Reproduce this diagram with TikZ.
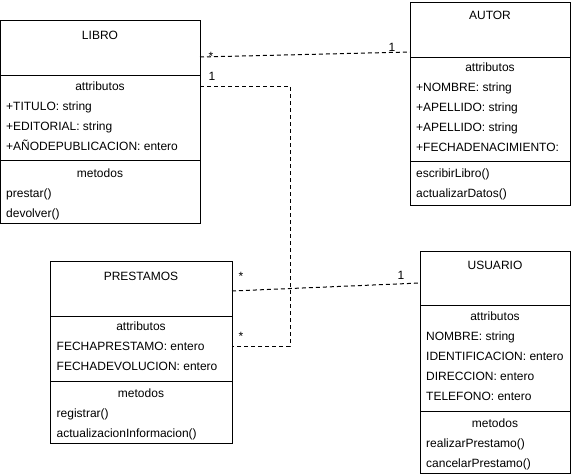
\documentclass[tikz,border=0pt]{standalone}
\usepackage{fontspec}
\setmainfont{Liberation Sans}

\begin{document}
\begin{tikzpicture}[x=1pt,y=-1pt,
    every node/.style={font=\fontsize{12}{14}\selectfont, inner sep=0pt},
    part/.style={draw, line width=1pt, outer sep=0pt, anchor=north west},
    titulo/.style={anchor=base},
    campo/.style={anchor=base west},
    mult/.style={anchor=base},
    assoc/.style={line width=1pt, dash pattern=on 4pt off 3pt}]
    \useasboundingbox (0,0) rectangle (571,474);
    % LIBRO
    \node[part, minimum width=199.5, minimum height=55.5] (libroH) at (0.5,20) {};
    \node[part, minimum width=199.5, minimum height=85] (libroA) at (libroH.south west) {};
    \node[part, minimum width=199.5, minimum height=62.5] (libroM) at (libroA.south west) {};
    \node[titulo] (libroT) at (100,39.5) {LIBRO};
    \node[titulo] (libroA0) at (100,90.5) {attributos};
    \node[campo] (libroA1) at (6,110.5) {+TITULO: string};
    \node[campo] (libroA2) at (6,130.5) {+EDITORIAL: string};
    \node[campo] (libroA3) at (6,150.5) {+AÑODEPUBLICACION: entero};
    \node[titulo] (libroM0) at (100,177.5) {metodos};
    \node[campo] (libroM1) at (6,197.5) {prestar()};
    \node[campo] (libroM2) at (6,217.5) {devolver()};
    % AUTOR
    \node[part, minimum width=160, minimum height=55] (autorH) at (410,2) {};
    \node[part, minimum width=160, minimum height=104] (autorA) at (autorH.south west) {};
    \node[part, minimum width=160, minimum height=44] (autorM) at (autorA.south west) {};
    \node[titulo] (autorT) at (490,19.5) {AUTOR};
    \node[titulo] (autorA0) at (490,71.5) {attributos};
    \node[campo] (autorA1) at (416,91.5) {+NOMBRE: string};
    \node[campo] (autorA2) at (416,111.5) {+APELLIDO: string};
    \node[campo] (autorA3) at (416,131.5) {+APELLIDO: string};
    \node[campo] (autorA4) at (416,151.5) {+FECHADENACIMIENTO:};
    \node[campo] (autorM1) at (416,177.5) {escribirLibro()};
    \node[campo] (autorM2) at (416,197.5) {actualizarDatos()};
    % PRESTAMOS
    \node[part, minimum width=182, minimum height=55] (prestH) at (50,261) {};
    \node[part, minimum width=182, minimum height=65] (prestA) at (prestH.south west) {};
    \node[part, minimum width=182, minimum height=62] (prestM) at (prestA.south west) {};
    \node[titulo] (prestT) at (141,280.5) {PRESTAMOS};
    \node[titulo] (prestA0) at (141,330.5) {attributos};
    \node[campo] (prestA1) at (56.5,350.5) {FECHAPRESTAMO: entero};
    \node[campo] (prestA2) at (56.5,370.5) {FECHADEVOLUCION: entero};
    \node[titulo] (prestM0) at (141,397.5) {metodos};
    \node[campo] (prestM1) at (56.5,417.5) {registrar()};
    \node[campo] (prestM2) at (56.5,437.5) {actualizacionInformacion()};
    % USUARIO
    \node[part, minimum width=150, minimum height=54] (usuH) at (420,251) {};
    \node[part, minimum width=150, minimum height=106] (usuA) at (usuH.south west) {};
    \node[part, minimum width=150, minimum height=62] (usuM) at (usuA.south west) {};
    \node[titulo] (usuT) at (495,269.5) {USUARIO};
    \node[titulo] (usuA0) at (495,320.5) {attributos};
    \node[campo] (usuA1) at (426,340.5) {NOMBRE: string};
    \node[campo] (usuA2) at (426,360.5) {IDENTIFICACION: entero};
    \node[campo] (usuA3) at (426,380.5) {DIRECCION: entero};
    \node[campo] (usuA4) at (426,400.5) {TELEFONO: entero};
    \node[titulo] (usuM0) at (495,427.5) {metodos};
    \node[campo] (usuM1) at (426,447.5) {realizarPrestamo()};
    \node[campo] (usuM2) at (426,467.5) {cancelarPrestamo()};
    % asociaciones
    \draw[assoc] (libroH.east |- 0,57) -- (autorH.west |- 0,52);
    \node[mult] (m1) at (211,60) {*};
    \node[mult] (m2) at (392,51) {1};
    \coordinate (codo) at (290,346);
    \draw[assoc] (libroA.east |- 0,86) -| (codo) -- (prestA.east |- codo);
    \node[mult] (m3) at (212,80.5) {1};
    \node[mult] (m4) at (241,340) {*};
    \draw[assoc] (prestH.east |- 0,291) -- (usuH.west |- 0,283);
    \node[mult] (m5) at (241,280) {*};
    \node[mult] (m6) at (401,279.5) {1};
\end{tikzpicture}
\end{document}
